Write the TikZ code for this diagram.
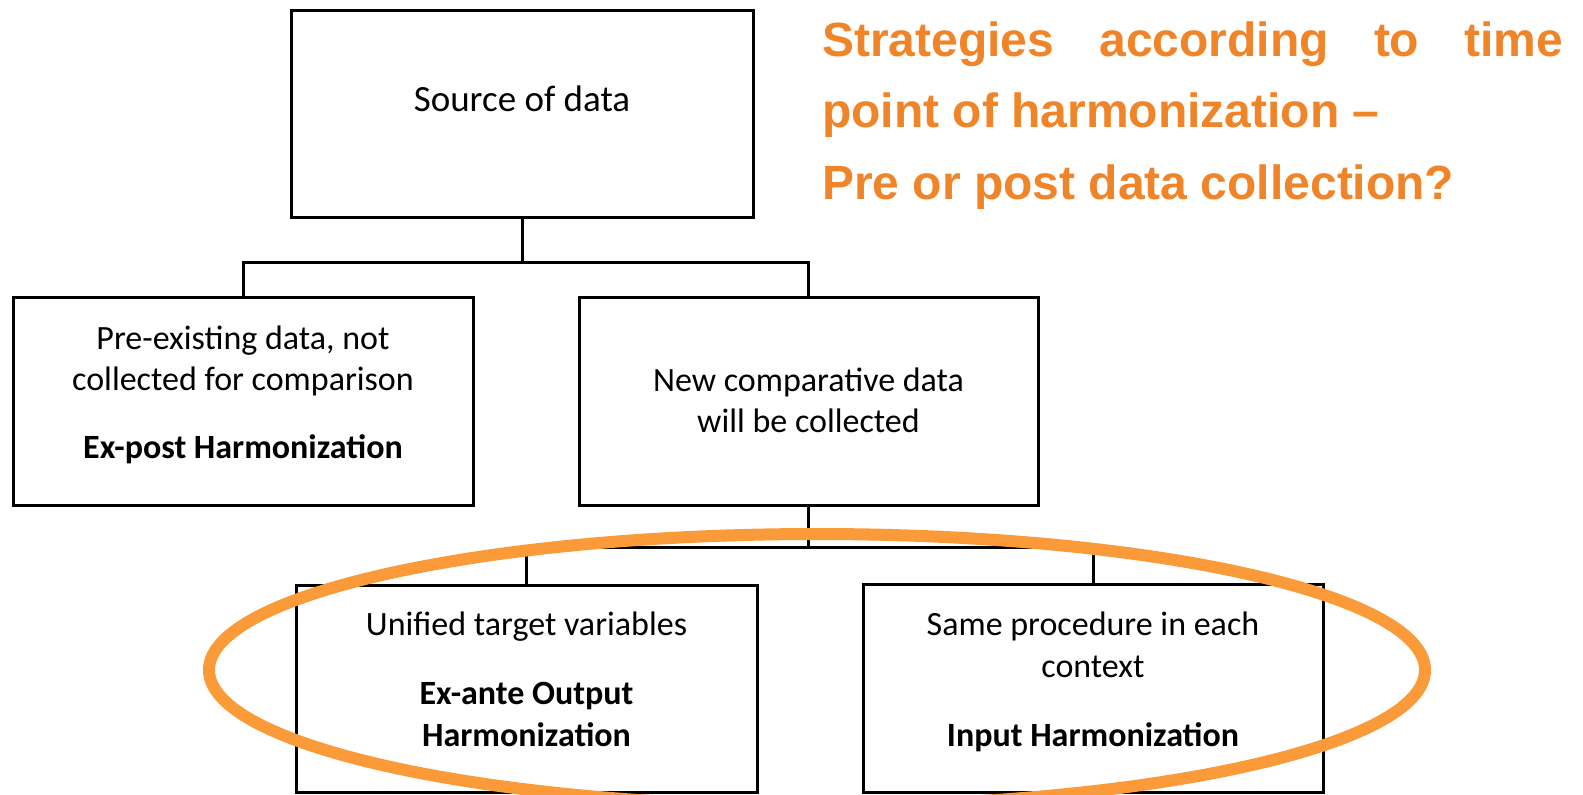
\documentclass[tikz,border=0pt]{standalone}
\usepackage{fontspec}
\setmainfont{Carlito}
\newfontfamily\titlefont{Liberation Sans}
\definecolor{hlorange}{RGB}{250,154,56}
\definecolor{titleorange}{RGB}{240,132,40}
\begin{document}
\begin{tikzpicture}[x=1pt,y=-1pt,
  box/.style={draw, line width=3pt, inner sep=0pt},
  conn/.style={line width=3pt},
  txt/.style={anchor=base, inner sep=0pt, font=\fontsize{34}{40}\selectfont},
  bold/.style={txt, font=\fontsize{34}{40}\selectfont\bfseries},
  ttl/.style={anchor=base west, inner sep=0pt, text=titleorange, font=\titlefont\bfseries\fontsize{48}{56}\selectfont},
  hl/.style={draw=hlorange, line width=12pt}]
\useasboundingbox (0,0) rectangle (1583,795);
% boxes
\node[box, minimum width=462pt, minimum height=207pt] (src) at (522,113.5) {};
\node[box, minimum width=460pt, minimum height=208pt] (pre) at (243,401) {};
\node[box, minimum width=459pt, minimum height=208pt] (new) at (808.5,401) {};
\node[box, minimum width=461pt, minimum height=207pt] (out) at (526.5,688.5) {};
\node[box, minimum width=460pt, minimum height=208pt] (inp) at (1093,688) {};
% connectors
\coordinate (bus1) at (0,262);
\coordinate (bus2) at (0,547);
\draw[conn] (src.south) -- (src.south |- bus1);
\draw[conn] (pre.north) |- (bus1 -| new.north) -- (new.north);
\draw[conn] (new.south) -- (new.south |- bus2);
\draw[conn] (out.north) |- (bus2 -| inp.north) -- (inp.north);
% texts
\node[txt, font=\fontsize{37}{44}\selectfont] (tsrc) at (522,111) {Source of data};
\node[txt] (tpre1) at (243,349) {Pre-existing data, not};
\node[txt] (tpre2) at (243,390) {collected for comparison};
\node[bold] (tpre3) at (243,458) {Ex-post Harmonization};
\node[txt] (tnew1) at (808.5,391) {New comparative data};
\node[txt] (tnew2) at (808.5,432) {will be collected};
\node[txt] (tout1) at (526.5,635) {Unified target variables};
\node[bold] (tout2) at (526.5,704) {Ex-ante Output};
\node[bold] (tout3) at (526.5,746) {Harmonization};
\node[txt] (tinp1) at (1093,635) {Same procedure in each};
\node[txt] (tinp2) at (1093,677) {context};
\node[bold] (tinp3) at (1093,746) {Input Harmonization};
% title
\node[ttl] (title1) at (822,56) {\makebox[741pt][s]{Strategies according to time}};
\node[ttl] (title2) at (822,127) {point of harmonization –};
\node[ttl] (title3) at (822,199) {Pre or post data collection?};
% highlight ellipse
\draw[hl] (817,670) ellipse [x radius=608pt, y radius=136pt];
\end{tikzpicture}
\end{document}
